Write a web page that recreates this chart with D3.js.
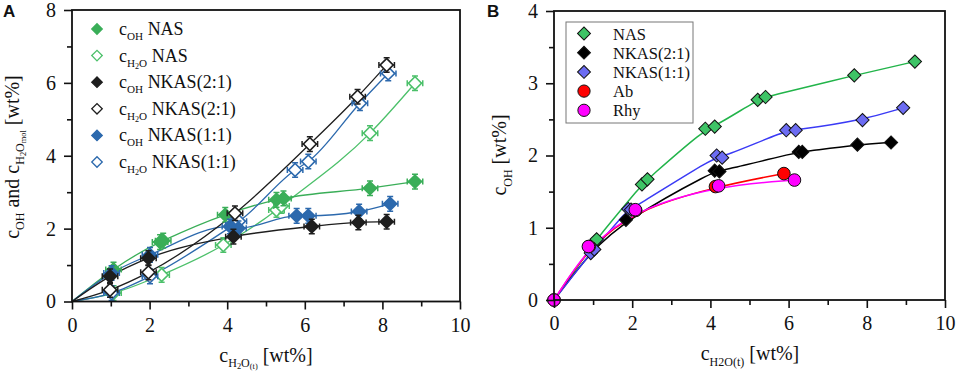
<!DOCTYPE html>
<html>
<head>
<meta charset="utf-8">
<script src="https://cdn.jsdelivr.net/npm/d3@7"></script>
<style>
  body { margin: 0; background: #fff; }
  svg { display: block; }
  text { font-family: "Liberation Serif", "Times New Roman", serif; fill: #111; }
</style>
</head>
<body>
<div id="chart"></div>
<script>
// ---- panel A data ----
var nasOH_x   = [0, 1.07, 2.27, 2.35, 3.95, 5.27, 5.45, 7.68, 8.84];
var nasOH_y   = [0, 0.88, 1.63, 1.67, 2.38, 2.79, 2.83, 3.11, 3.29];
var nasH2O_x  = [0, 1.07, 2.31, 3.9, 5.27, 5.4, 7.68, 8.84];
var nasH2O_y  = [0, 0.23, 0.73, 1.55, 2.51, 2.62, 4.62, 5.99];
var k21OH_x   = [0, 0.98, 1.97, 4.16, 6.18, 7.38, 8.11];
var k21OH_y   = [0, 0.69, 1.19, 1.78, 2.06, 2.17, 2.19];
var k21H2O_x  = [0, 0.98, 1.97, 4.2, 6.13, 7.36, 8.11];
var k21H2O_y  = [0, 0.32, 0.8, 2.42, 4.32, 5.62, 6.49];
var k11OH_x   = [0, 1.02, 2.01, 4.07, 4.29, 5.79, 6.09, 7.4, 8.2];
var k11OH_y   = [0, 0.78, 1.28, 2.06, 2.01, 2.35, 2.35, 2.47, 2.68];
var k11H2O_x  = [0, 1.02, 2.01, 4.16, 4.3, 5.75, 6.09, 7.42, 8.15];
var k11H2O_y  = [0, 0.23, 0.69, 2.1, 2.2, 3.61, 3.84, 5.44, 6.26];
var errX = 0.2, errY = 0.2;

// ---- panel B data ----
var bNAS_x  = [0, 1.03, 1.09, 2.25, 2.39, 3.87, 4.11, 5.21, 5.41, 7.68, 9.23];
var bNAS_y  = [0, 0.79, 0.84, 1.6, 1.67, 2.37, 2.4, 2.77, 2.81, 3.11, 3.3];
var bK21_x  = [0, 0.95, 1.84, 4.11, 4.23, 6.26, 6.35, 7.76, 8.62];
var bK21_y  = [0, 0.68, 1.11, 1.79, 1.78, 2.05, 2.05, 2.15, 2.18];
var bK11_x  = [0, 0.94, 1.03, 1.9, 1.97, 4.16, 4.3, 5.94, 6.18, 7.89, 8.93];
var bK11_y  = [0, 0.65, 0.7, 1.26, 1.25, 2.0, 1.97, 2.35, 2.35, 2.49, 2.66];
var bAb_x   = [0, 0.9, 2.09, 4.13, 5.88];
var bAb_y   = [0, 0.74, 1.24, 1.57, 1.75];
var bRhy_x  = [0, 0.88, 2.08, 4.21, 6.15];
var bRhy_y  = [0, 0.74, 1.25, 1.58, 1.66];

// ticks
var xMajor = [0, 2, 4, 6, 8, 10];
var xMinor = [1, 3, 5, 7, 9];
var aYMajor = [0, 2, 4, 6, 8];
var aYMinor = [1, 3, 5, 7];
var bYMajor = [0, 1, 2, 3, 4];
var bYMinor = [0.5, 1.5, 2.5, 3.5];

var serif = "Liberation Serif";

function zip(xs, ys) { return xs.map(function (x, i) { return { x: x, y: ys[i] }; }); }

var svg = d3.select("#chart").append("svg").attr("width", 957).attr("height", 374);

// writes a text made of pieces with baseline shifts (subscripts)
function richText(g, parts, size) {
  var t = g.append("text").attr("font-size", size);
  var prev = 0;
  parts.forEach(function (p) {
    var shift = p.shift || 0;
    t.append("tspan")
      .attr("dy", (shift - prev) + "px")
      .attr("font-size", (p.scale || 1) * size)
      .text(p.t);
    prev = shift;
  });
  return t;
}

function styleAxis(s) {
  s.select(".domain").remove();
  s.attr("font-family", serif).attr("font-size", 20);
  s.selectAll("line").attr("stroke", "#111").attr("stroke-width", 1.6);
  s.selectAll("text").attr("font-family", serif).style("font-family", serif)
    .attr("font-size", 20).attr("fill", "#111");
}

function drawAxes(g, x, y, yMajor, yMinor) {
  var x0 = x.range()[0], x1 = x.range()[1], y0 = y.range()[0], y1 = y.range()[1];
  var fmt = d3.format("d");
  g.append("g").attr("transform", "translate(0," + y0 + ")")
    .call(d3.axisBottom(x).tickValues(xMajor).tickFormat(fmt).tickSize(8).tickPadding(8))
    .call(styleAxis);
  g.append("g").attr("transform", "translate(0," + y0 + ")")
    .call(d3.axisBottom(x).tickValues(xMinor).tickSize(5).tickFormat(""))
    .call(styleAxis);
  g.append("g").attr("transform", "translate(" + x0 + ",0)")
    .call(d3.axisLeft(y).tickValues(yMajor).tickFormat(fmt).tickSize(8).tickPadding(8))
    .call(styleAxis);
  g.append("g").attr("transform", "translate(" + x0 + ",0)")
    .call(d3.axisLeft(y).tickValues(yMinor).tickSize(5).tickFormat(""))
    .call(styleAxis);
  g.append("rect").attr("x", x0).attr("y", y1).attr("width", x1 - x0).attr("height", y0 - y1)
    .attr("fill", "none").attr("stroke", "#111").attr("stroke-width", 1.8);
}

var diamond = d3.symbol().type(d3.symbolSquare);

// ================= Panel A =================
var gA = svg.append("g");
var xA = d3.scaleLinear().domain([0, 10]).range([72, 460]);
var yA = d3.scaleLinear().domain([0, 8]).range([301.5, 10]);

var green = "#3aae58", greenL = "#4cc06a", dark = "#1e1e1e", blue = "#2c69ad";
var seriesA = [
  { data: zip(nasH2O_x, nasH2O_y), color: greenL, filled: false, lbl: [["H", 1], ["2", 2], ["O", 1]], name: " NAS" },
  { data: zip(nasOH_x, nasOH_y), color: green, filled: true, lbl: [["OH", 1]], name: " NAS" },
  { data: zip(k11H2O_x, k11H2O_y), color: blue, filled: false, lbl: [["H", 1], ["2", 2], ["O", 1]], name: " NKAS(1:1)" },
  { data: zip(k11OH_x, k11OH_y), color: blue, filled: true, lbl: [["OH", 1]], name: " NKAS(1:1)" },
  { data: zip(k21H2O_x, k21H2O_y), color: dark, filled: false, lbl: [["H", 1], ["2", 2], ["O", 1]], name: " NKAS(2:1)" },
  { data: zip(k21OH_x, k21OH_y), color: dark, filled: true, lbl: [["OH", 1]], name: " NKAS(2:1)" }
];
var legendOrderA = [1, 0, 5, 4, 3, 2];

var lineA = d3.line().x(function (d) { return xA(d.x); }).y(function (d) { return yA(d.y); })
  .curve(d3.curveMonotoneX);

seriesA.forEach(function (s) {
  gA.append("path").datum(s.data).attr("d", lineA)
    .attr("fill", "none").attr("stroke", s.color).attr("stroke-width", 1.3);
});
seriesA.forEach(function (s) {
  var pts = gA.append("g").selectAll("g").data(s.data.slice(1)).join("g")
    .attr("transform", function (d) { return "translate(" + xA(d.x) + "," + yA(d.y) + ")"; });
  var ex = xA(errX) - xA(0), ey = yA(0) - yA(errY);
  pts.append("path")
    .attr("d", "M" + (-ex) + ",0H" + ex + "M0," + (-ey) + "V" + ey +
      "M" + (-ex) + ",-3V3M" + ex + ",-3V3M-3," + (-ey) + "H3M-3," + ey + "H3")
    .attr("stroke", s.color).attr("stroke-width", 1.5).attr("fill", "none");
  pts.append("path").attr("d", diamond.size(85)()).attr("transform", "rotate(45)")
    .attr("fill", s.filled ? s.color : "#fff").attr("stroke", s.color).attr("stroke-width", 1.6);
});

// legend A
var legA = gA.append("g");
legendOrderA.forEach(function (idx, i) {
  var s = seriesA[idx];
  var yy = 29 + i * 26.6;
  legA.append("path").attr("d", diamond.size(55)())
    .attr("transform", "translate(97," + yy + ") rotate(45)")
    .attr("fill", s.filled ? s.color : "#fff").attr("stroke", s.color).attr("stroke-width", 1.3);
  var parts = [{ t: "c" }];
  s.lbl.forEach(function (p) { parts.push({ t: p[0], scale: p[1] == 1 ? 0.62 : 0.45, shift: p[1] == 1 ? 5 : 7 }); });
  parts.push({ t: s.name, shift: 0 });
  richText(legA, parts, 18).attr("x", 119).attr("y", yy + 6);
});

drawAxes(gA, xA, yA, aYMajor, aYMinor);

// axis titles A
richText(gA, [{ t: "c" }, { t: "H", scale: 0.6, shift: 5 }, { t: "2", scale: 0.42, shift: 7 },
  { t: "O", scale: 0.6, shift: 5 }, { t: "(t)", scale: 0.42, shift: 7 }, { t: " [wt%]", shift: 0 }], 20)
  .attr("x", 266).attr("y", 362).attr("text-anchor", "middle");
richText(gA, [{ t: "c" }, { t: "OH", scale: 0.6, shift: 5 }, { t: " and c", shift: 0 },
  { t: "H", scale: 0.6, shift: 5 }, { t: "2", scale: 0.42, shift: 7 }, { t: "O", scale: 0.6, shift: 5 },
  { t: "mol", scale: 0.42, shift: 7 }, { t: " [wt%]", shift: 0 }], 20)
  .attr("text-anchor", "middle").attr("transform", "translate(19,157) rotate(-90)");

svg.append("text").attr("x", 3).attr("y", 17).attr("font-size", 17).attr("font-weight", "bold")
  .style("font-family", "'Liberation Sans', Arial, sans-serif").text("A");

// ================= Panel B =================
var gB = svg.append("g");
var xB = d3.scaleLinear().domain([0, 10]).range([554, 945]);
var yB = d3.scaleLinear().domain([0, 4]).range([300, 11]);

var seriesB = [
  { name: "NAS", data: zip(bNAS_x, bNAS_y), fill: "#3ec466", line: "#22b44a", shape: "d" },
  { name: "NKAS(2:1)", data: zip(bK21_x, bK21_y), fill: "#000", line: "#000", shape: "d" },
  { name: "NKAS(1:1)", data: zip(bK11_x, bK11_y), fill: "#6c6cf2", line: "#3a3af5", shape: "d" },
  { name: "Ab", data: zip(bAb_x, bAb_y), fill: "#ff0000", line: "#ff0000", shape: "c" },
  { name: "Rhy", data: zip(bRhy_x, bRhy_y), fill: "#ff00ff", line: "#ff00ff", shape: "c" }
];

var lineB = d3.line().x(function (d) { return xB(d.x); }).y(function (d) { return yB(d.y); })
  .curve(d3.curveBasis);

seriesB.forEach(function (s) {
  gB.append("path").datum(s.data).attr("d", lineB)
    .attr("fill", "none").attr("stroke", s.line).attr("stroke-width", 1.5);
});

function markB(sel, s, scale) {
  if (s.shape == "d") {
    sel.append("path").attr("d", diamond.size(88 * scale)()).attr("transform", "rotate(45)");
  } else {
    sel.append("circle").attr("r", 6.3 * Math.sqrt(scale));
  }
  sel.selectAll("path,circle").attr("fill", s.fill).attr("stroke", "#111").attr("stroke-width", 1);
}

seriesB.forEach(function (s) {
  var pts = gB.append("g").selectAll("g").data(s.data).join("g")
    .attr("transform", function (d) { return "translate(" + xB(d.x) + "," + yB(d.y) + ")"; });
  markB(pts, s, 1);
});

drawAxes(gB, xB, yB, bYMajor, bYMinor);

// legend B
var legB = gB.append("g");
legB.append("rect").attr("x", 566).attr("y", 22).attr("width", 127).attr("height", 101)
  .attr("fill", "#fff").attr("stroke", "#777").attr("stroke-width", 1);
seriesB.forEach(function (s, i) {
  var yy = 33.5 + i * 19.2;
  var g = legB.append("g").attr("transform", "translate(584," + yy + ")");
  markB(g, s, 0.95);
  legB.append("text").attr("x", 613).attr("y", yy + 6).attr("font-size", 16.5).text(s.name);
});

richText(gB, [{ t: "c" }, { t: "H2O(t)", scale: 0.6, shift: 6 }, { t: " [wt%]", shift: 0 }], 20)
  .attr("x", 750).attr("y", 360).attr("text-anchor", "middle");
richText(gB, [{ t: "c" }, { t: "OH", scale: 0.6, shift: 6 }, { t: " [wt%]", shift: 0 }], 20)
  .attr("text-anchor", "middle").attr("transform", "translate(506,155) rotate(-90)");

svg.append("text").attr("x", 487).attr("y", 17).attr("font-size", 17).attr("font-weight", "bold")
  .style("font-family", "'Liberation Sans', Arial, sans-serif").text("B");
</script>
</body>
</html>
